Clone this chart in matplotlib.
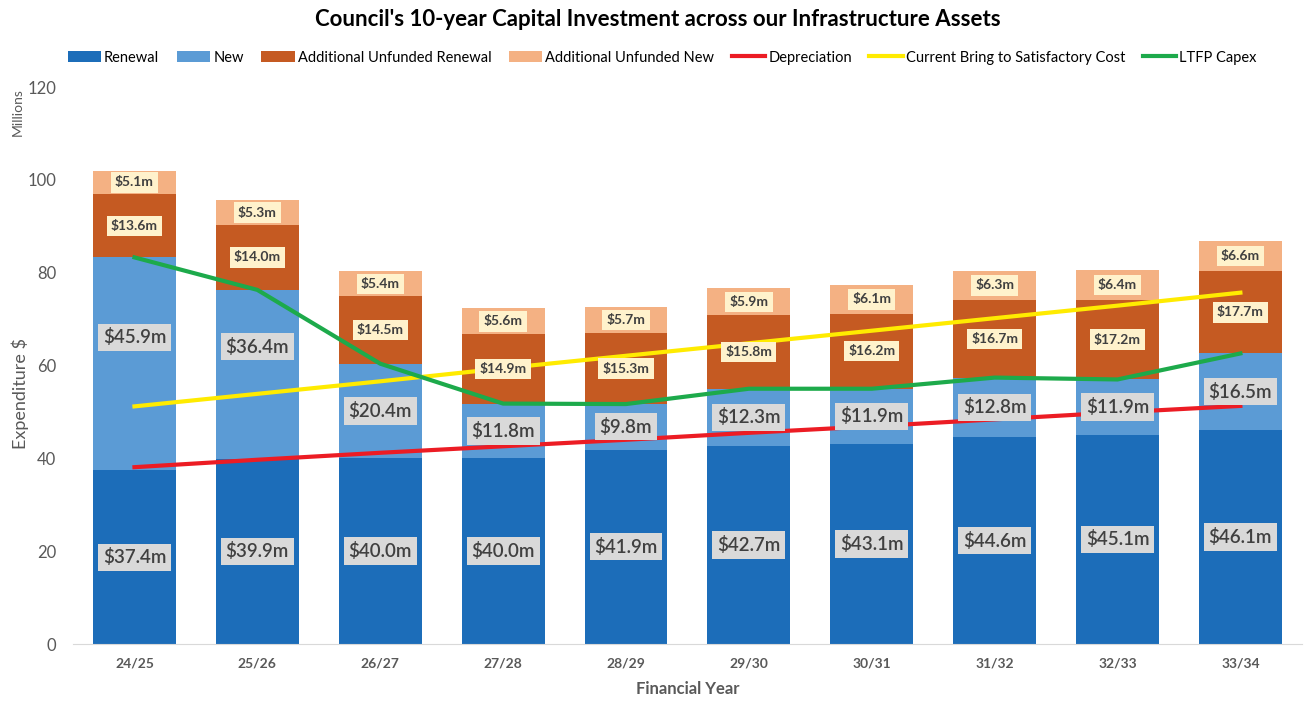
import matplotlib.pyplot as plt
import numpy as np

plt.rcParams['font.family'] = ['Lato', 'DejaVu Sans']

years = ["24/25", "25/26", "26/27", "27/28", "28/29", "29/30", "30/31", "31/32", "32/33", "33/34"]
renewal = [37.4, 39.9, 40.0, 40.0, 41.9, 42.7, 43.1, 44.6, 45.1, 46.1]
new = [45.9, 36.4, 20.4, 11.8, 9.8, 12.3, 11.9, 12.8, 11.9, 16.5]
unfunded_renewal = [13.6, 14.0, 14.5, 14.9, 15.3, 15.8, 16.2, 16.7, 17.2, 17.7]
unfunded_new = [5.1, 5.3, 5.4, 5.6, 5.7, 5.9, 6.1, 6.3, 6.4, 6.6]
depreciation = [38.1, 39.7, 41.2, 42.6, 44.0, 45.5, 46.9, 48.4, 49.9, 51.3]
bring_to_satisfactory = [51.2, 53.9, 56.6, 59.4, 62.1, 64.8, 67.5, 70.2, 72.9, 75.7]
ltfp_capex = [83.3, 76.3, 60.4, 51.8, 51.7, 55.0, 55.0, 57.4, 57.0, 62.6]

# manual nudges Excel-style for the first two "New" labels
new_label_shift = [5.7, 6.0, 0, 0, 0, 0, 0, 0, 0, 0]

c_ren = "#1C6DB9"
c_new = "#5B9BD5"
c_ur = "#C55A22"
c_un = "#F4B183"
txt = "#404040"

fig = plt.figure(figsize=(13.11, 7.02), dpi=100)
ax = fig.add_axes([0.0557, 0.0826, 0.9373, 0.7934])

x = np.arange(len(years))
w = 0.675
r = np.array(renewal)
n = np.array(new)
ur = np.array(unfunded_renewal)
un = np.array(unfunded_new)

h = []
h.append(ax.bar(x, r, w, color=c_ren, label="Renewal", zorder=2))
h.append(ax.bar(x, n, w, bottom=r, color=c_new, label="New", zorder=2))
h.append(ax.bar(x, ur, w, bottom=r + n, color=c_ur, label="Additional Unfunded Renewal", zorder=2))
h.append(ax.bar(x, un, w, bottom=r + n + ur, color=c_un, label="Additional Unfunded New", zorder=2))

h += ax.plot(x, depreciation, color="#EC1C24", lw=3, label="Depreciation", zorder=3)
h += ax.plot(x, bring_to_satisfactory, color="#FFEB00", lw=3, label="Current Bring to Satisfactory Cost", zorder=3)
h += ax.plot(x, ltfp_capex, color="#1DAA4B", lw=3, label="LTFP Capex", zorder=3)

big = dict(boxstyle="square,pad=0.25", fc="#D9D9D9", ec="none")
small = dict(boxstyle="square,pad=0.3", fc="#FFF2CC", ec="none")
for i in x:
    ax.text(i, r[i] / 2, f"${r[i]:.1f}m", ha="center", va="center", fontsize=13.5,
            fontweight="semibold", color=txt, bbox=big, zorder=5)
    ax.text(i, r[i] + n[i] / 2 + new_label_shift[i], f"${n[i]:.1f}m", ha="center", va="center",
            fontsize=13.5, fontweight="semibold", color=txt, bbox=big, zorder=5)
    ax.text(i, r[i] + n[i] + ur[i] / 2, f"${ur[i]:.1f}m", ha="center", va="center",
            fontsize=10, fontweight="bold", color=txt, bbox=small, zorder=5)
    ax.text(i, r[i] + n[i] + ur[i] + un[i] / 2, f"${un[i]:.1f}m", ha="center", va="center",
            fontsize=10, fontweight="bold", color=txt, bbox=small, zorder=5)

ax.set_xlim(-0.5, 9.5)
ax.set_ylim(0, 120)
ax.set_yticks(range(0, 121, 20))
ax.set_xticks(x)
ax.set_xticklabels(years, fontweight="bold")
ax.tick_params(axis="x", length=0, labelsize=10, colors="#595959", pad=10)
ax.tick_params(axis="y", length=0, labelsize=12, colors="#595959", pad=12)
for s in ["top", "right", "left"]:
    ax.spines[s].set_visible(False)
ax.spines["bottom"].set_color("#D9D9D9")

ax.set_xlabel("Financial Year", fontsize=12, fontweight="bold", color="#595959", labelpad=8)
ax.set_ylabel("Expenditure $", fontsize=13, color="#595959")
ax.yaxis.set_label_coords(-0.036, 0.45)
fig.text(0.009, 0.84, "Millions", rotation=90, fontsize=10, color="#595959", va="center")

fig.suptitle("Council's 10-year Capital Investment across our Infrastructure Assets",
             fontsize=16, fontweight="bold", y=0.987, x=0.502)
fig.legend(handles=h, loc="center", bbox_to_anchor=(0.505, 0.918), ncol=7, frameon=False,
           fontsize=10.5, handlelength=2.3, handletextpad=0.2, columnspacing=1.2)

fig.savefig("out.png", dpi=100)
